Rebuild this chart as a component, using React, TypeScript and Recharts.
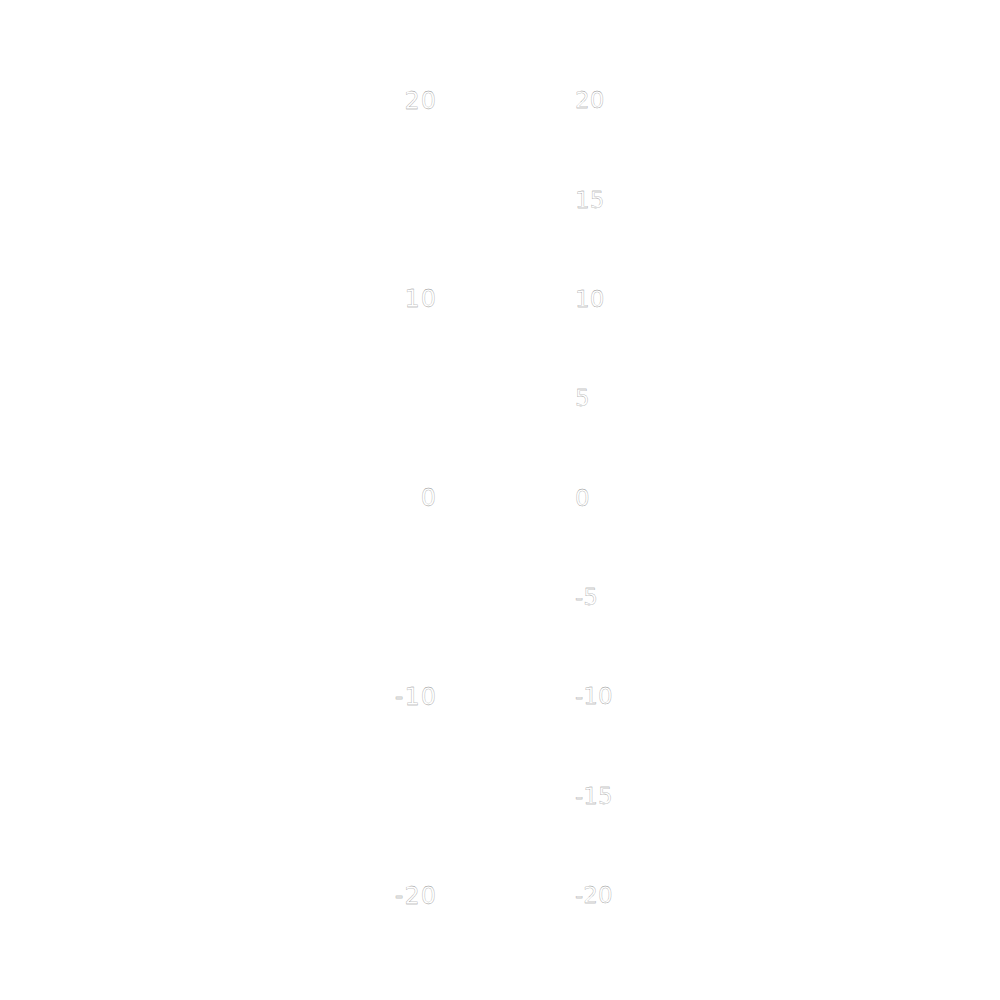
import { ComposedChart, Line, XAxis, YAxis } from "recharts";

const categories = ["A", "B", "C", "D", "E"];
const leftValues = [0, 0, 0, 0, 0];
const rightValues = [0, 0, 0, 0, 0];
const leftTicks = [-20, -10, 0, 10, 20];
const rightTicks = [-20, -15, -10, -5, 0, 5, 10, 15, 20];

const data = categories.map((c, i) => ({
  name: c,
  left: leftValues[i],
  right: rightValues[i],
}));

const tickStyle = {
  fill: "#ffffff",
  stroke: "#8c8c8c",
  strokeWidth: 0.3,
  fontFamily: "DejaVu Sans",
};

export default function App() {
  return (
    <div style={{ background: "#fff" }}>
      <ComposedChart
        width={1000}
        height={1000}
        data={data}
        margin={{ top: 92, right: 381, bottom: 113, left: 377 }}
      >
        <XAxis dataKey="name" hide />
        <YAxis
          yAxisId="left"
          domain={[-20, 20]}
          ticks={leftTicks}
          axisLine={false}
          tickLine={false}
          tick={{ ...tickStyle, fontSize: 24, letterSpacing: 1 }}
        />
        <YAxis
          yAxisId="right"
          orientation="right"
          domain={[-20, 20]}
          ticks={rightTicks}
          axisLine={false}
          tickLine={false}
          tick={{ ...tickStyle, fontSize: 23 }}
        />
        <Line
          yAxisId="left"
          dataKey="left"
          stroke="#ffffff"
          dot={false}
          isAnimationActive={false}
        />
        <Line
          yAxisId="right"
          dataKey="right"
          stroke="#ffffff"
          dot={false}
          isAnimationActive={false}
        />
      </ComposedChart>
    </div>
  );
}
